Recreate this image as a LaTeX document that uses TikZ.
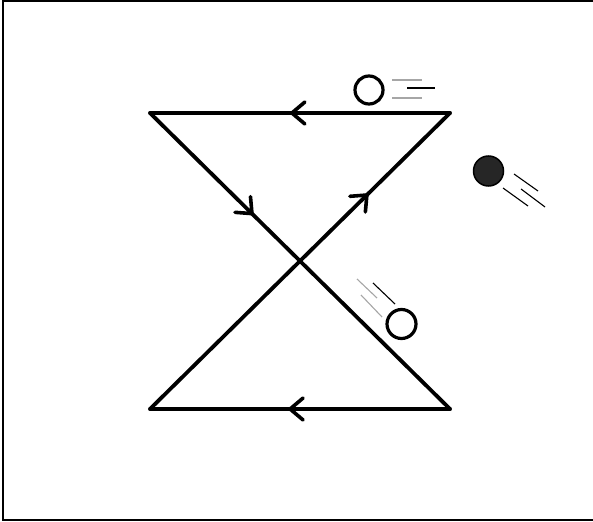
\documentclass[tikz,border=0pt]{standalone}
\usetikzlibrary{decorations.markings}
\tikzset{
  edge/.style={line width=3.8pt, line cap=round, line join=round},
  midarrow/.style={postaction={decorate,decoration={markings,
    mark=at position #1 with {\draw[line width=3.6pt, line cap=round, line join=round] (-13pt,11pt) -- (0pt,0pt) -- (-13pt,-11pt);}}}},
  ball/.style={circle, draw, line width=3.2pt, minimum size=28pt, inner sep=0pt},
  speed/.style={line width=1.1pt},
  speedgray/.style={line width=1.1pt, gray!70},
}
\begin{document}
\begin{tikzpicture}[x=1pt,y=-1pt]
\useasboundingbox (0,0) rectangle (593,521);
\draw[line width=2pt] (594,1.5) -- (2.5,1.5) -- (2.5,519.5) -- (594,519.5);
\coordinate (tl) at (150,113);
\coordinate (tr) at (450,113);
\coordinate (bl) at (150,409);
\coordinate (br) at (450,409);
\draw[edge, midarrow=0.527] (tr) -- (tl);
\draw[edge, midarrow=0.34] (tl) -- (br);
\draw[edge, midarrow=0.533] (br) -- (bl);
\draw[edge, midarrow=0.723] (bl) -- (tr);
% ball 1
\node[ball] (b1) at (369,90) {};
\coordinate (s1a) at (392,80); \coordinate (s1b) at (422,80);
\coordinate (s2a) at (407,88); \coordinate (s2b) at (435,88);
\coordinate (s3a) at (392,98); \coordinate (s3b) at (422,98);
\draw[speedgray] (s1a) -- (s1b);
\draw[speed] (s2a) -- (s2b);
\draw[speedgray] (s3a) -- (s3b);
% ball 2 (filled)
\node[ball, fill=black!85, line width=1.5pt, minimum size=30pt] (b2) at (488.5,171) {};
\coordinate (t1a) at (514,174); \coordinate (t1b) at (538,191);
\coordinate (t2a) at (521,189); \coordinate (t2b) at (545,207);
\coordinate (t3a) at (503,188); \coordinate (t3b) at (528,206);
\draw[speed] (t1a) -- (t1b);
\draw[speed] (t2a) -- (t2b);
\draw[speed] (t3a) -- (t3b);
% ball 3
\node[ball, minimum size=29pt] (b3) at (401.5,324) {};
\coordinate (u1a) at (357,279); \coordinate (u1b) at (377,298);
\coordinate (u2a) at (373,283); \coordinate (u2b) at (395,304);
\coordinate (u3a) at (361,295); \coordinate (u3b) at (382,317);
\draw[speedgray] (u1a) -- (u1b);
\draw[speed] (u2a) -- (u2b);
\draw[speedgray] (u3a) -- (u3b);
\end{tikzpicture}
\end{document}
